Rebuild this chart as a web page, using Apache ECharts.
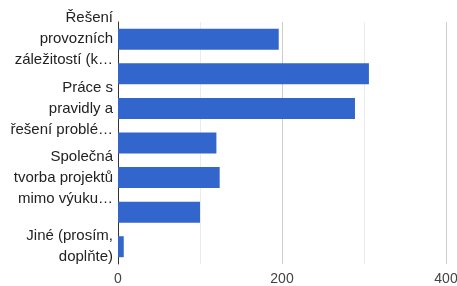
<!DOCTYPE html>
<html>
<head>
<meta charset="utf-8">
<script src="https://cdn.jsdelivr.net/npm/echarts@6/dist/echarts.min.js"></script>
<style>
  html, body { margin: 0; padding: 0; background: #fff; }
  #chart { width: 457px; height: 286px; }
</style>
</head>
<body>
<div id="chart"></div>
<script>
// kategorie (zobrazené popisky jsou zkrácené jako v originále)
const categories = [
  'Řešení\nprovozních\nzáležitostí (k…',
  'Sdílení materiálů\na zkušeností',
  'Práce s\npravidly a\nřešení problé…',
  'Vzájemné\nhospitace',
  'Společná\ntvorba projektů\nmimo výuku…',
  'Společná\nvýuka',
  'Jiné (prosím,\ndoplňte)'
]
const values = [196, 306, 289, 120, 124, 100, 7]
const xTicks = [0, 200, 400]

const myChart = echarts.init(document.getElementById('chart'))
const option = {
  animation: false,
  grid: {
    left: 118,
    right: 11,
    top: 22,
    bottom: 22,
    outerBoundsMode: 'none'
  },
  xAxis: {
    type: 'value',
    min: xTicks[0],
    max: xTicks[xTicks.length - 1],
    interval: 200,
    axisLine: { show: false },
    axisTick: { show: false },
    axisLabel: {
      color: '#444',
      fontFamily: 'Liberation Sans',
      fontSize: 14,
      margin: 8
    },
    splitLine: {
      lineStyle: { color: '#cccccc', width: 1 }
    },
    minorTick: { show: false, splitNumber: 2 },
    minorSplitLine: {
      show: true,
      lineStyle: { color: '#ebebeb', width: 1 }
    }
  },
  yAxis: {
    type: 'category',
    inverse: true,
    data: categories,
    axisLine: { show: true, lineStyle: { color: '#333', width: 1 } },
    axisTick: { show: false },
    axisLabel: {
      interval: 1,
      color: '#222',
      fontFamily: 'Liberation Sans',
      fontSize: 15,
      lineHeight: 21,
      margin: 5,
      align: 'right'
    }
  },
  series: [
    {
      type: 'bar',
      data: values,
      barWidth: 21,
      itemStyle: {
        color: '#3366cc'
      }
    }
  ]
}
myChart.setOption(option, true)
</script>
</body>
</html>
